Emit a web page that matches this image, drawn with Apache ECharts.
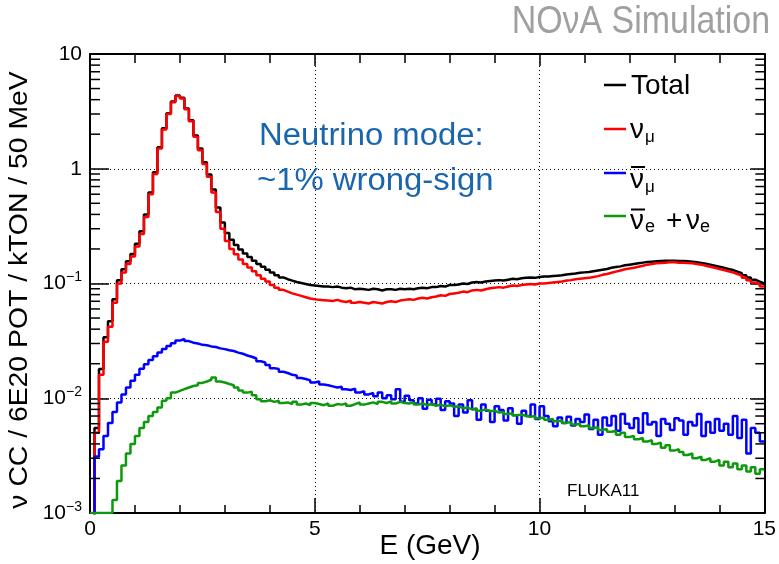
<!DOCTYPE html>
<html><head><meta charset="utf-8">
<script src="https://cdn.jsdelivr.net/npm/echarts@6/dist/echarts.min.js"></script>
<style>html,body{margin:0;padding:0;background:#fff}#c{width:779px;height:564px}</style>
</head><body><div id="c"></div>
<script>
// ---------------- DATA (100 MeV bins, E = 0..15 GeV) ----------------
const BIN_WIDTH = 0.1; // GeV
const X_MIN = 0, X_MAX = 15, X_INTERVAL = 5;
const Y_MIN = 0.001, Y_MAX = 10;
const seriesNames = ['Total', 'numu', 'numubar', 'nue'];

const total = [
  0.0008, 0.0055, 0.018, 0.034, 0.047, 0.073, 0.107, 0.133, 0.156, 0.181,
  0.222, 0.285, 0.40, 0.62, 0.93, 1.54, 2.25, 3.05, 3.85, 4.35,
  4.15, 3.35, 2.65, 1.95, 1.5, 1.14, 0.89, 0.66, 0.46, 0.34,
  0.275, 0.24, 0.216, 0.198, 0.183, 0.170, 0.158, 0.148, 0.140, 0.132,
  0.125, 0.118, 0.113, 0.109, 0.106, 0.103, 0.101, 0.099, 0.097, 0.096,
  0.095, 0.094, 0.094, 0.093, 0.094, 0.092, 0.091, 0.092, 0.089, 0.090,
  0.089, 0.088, 0.090, 0.089, 0.087, 0.089, 0.089, 0.088, 0.090, 0.089,
  0.090, 0.089, 0.091, 0.092, 0.091, 0.093, 0.093, 0.095, 0.094, 0.097,
  0.097, 0.098, 0.100, 0.099, 0.102, 0.103, 0.102, 0.104, 0.105, 0.106,
  0.107, 0.106, 0.108, 0.110, 0.109, 0.111, 0.112, 0.113, 0.112, 0.114,
  0.115, 0.115, 0.116, 0.117, 0.118, 0.120, 0.121, 0.122, 0.124, 0.125,
  0.126, 0.128, 0.130, 0.132, 0.134, 0.137, 0.139, 0.141, 0.144, 0.146,
  0.148, 0.150, 0.152, 0.154, 0.155, 0.156, 0.157, 0.158, 0.158, 0.158,
  0.157, 0.157, 0.156, 0.155, 0.153, 0.151, 0.149, 0.146, 0.143, 0.140,
  0.137, 0.134, 0.131, 0.127, 0.123, 0.118, 0.113, 0.108, 0.104, 0.100
];

const numu = [
  0.0008, 0.005, 0.016, 0.031, 0.042, 0.068, 0.100, 0.125, 0.148, 0.172,
  0.21, 0.27, 0.38, 0.60, 0.90, 1.5, 2.2, 3.0, 3.8, 4.3,
  4.1, 3.3, 2.6, 1.9, 1.45, 1.1, 0.85, 0.62, 0.42, 0.30,
  0.235, 0.20, 0.18, 0.162, 0.148, 0.138, 0.128, 0.118, 0.110, 0.104,
  0.097, 0.092, 0.088, 0.085, 0.082, 0.080, 0.078, 0.076, 0.074, 0.073,
  0.072, 0.0715, 0.071, 0.0705, 0.072, 0.070, 0.069, 0.071, 0.068, 0.069,
  0.068, 0.067, 0.069, 0.068, 0.067, 0.069, 0.070, 0.069, 0.071, 0.072,
  0.073, 0.072, 0.074, 0.075, 0.074, 0.076, 0.077, 0.079, 0.078, 0.081,
  0.082, 0.083, 0.085, 0.084, 0.087, 0.088, 0.087, 0.089, 0.091, 0.092,
  0.093, 0.092, 0.094, 0.096, 0.095, 0.097, 0.098, 0.099, 0.098, 0.100,
  0.100, 0.101, 0.102, 0.103, 0.104, 0.106, 0.107, 0.109, 0.110, 0.111,
  0.112, 0.114, 0.116, 0.119, 0.121, 0.124, 0.127, 0.130, 0.133, 0.135,
  0.137, 0.140, 0.143, 0.146, 0.148, 0.150, 0.151, 0.152, 0.153, 0.153,
  0.152, 0.152, 0.151, 0.150, 0.148, 0.146, 0.143, 0.140, 0.137, 0.134,
  0.131, 0.128, 0.125, 0.121, 0.117, 0.112, 0.107, 0.102, 0.098, 0.094
];

const numubar = [
  0.0008, 0.0031, 0.0036, 0.0047, 0.0061, 0.0076, 0.0092, 0.0108, 0.0124, 0.0142,
  0.0160, 0.0181, 0.0198, 0.0215, 0.0232, 0.0250, 0.0268, 0.0285, 0.0302, 0.0318,
  0.0328, 0.0315, 0.0305, 0.0300, 0.0292, 0.0290, 0.0283, 0.0280, 0.0272, 0.0268,
  0.0262, 0.0258, 0.0250, 0.0244, 0.0236, 0.0230, 0.0222, 0.0210, 0.0205, 0.0195,
  0.0183, 0.0180, 0.0170, 0.0166, 0.0160, 0.0158, 0.0150, 0.0147, 0.0143, 0.0137,
  0.0140, 0.0132, 0.0130, 0.0127, 0.0124, 0.0126, 0.0120, 0.0118, 0.0121, 0.0112,
  0.0115, 0.0108, 0.0111, 0.0104, 0.0112, 0.0100, 0.0106, 0.0098, 0.0120, 0.0093,
  0.0105, 0.0096, 0.0090, 0.0100, 0.0081, 0.0097, 0.0088, 0.0099, 0.0079, 0.0094,
  0.0090, 0.0070, 0.0088, 0.0075, 0.0096, 0.0080, 0.0065, 0.0088, 0.0078, 0.0062,
  0.0085, 0.0079, 0.0064, 0.0082, 0.0071, 0.0060, 0.0078, 0.0070, 0.0088, 0.0066,
  0.0085, 0.0070, 0.0063, 0.0057, 0.0068, 0.0061, 0.0069, 0.0058, 0.0066, 0.0062,
  0.0072, 0.0054, 0.0065, 0.0048, 0.0068, 0.0058, 0.0070, 0.0052, 0.0073, 0.0060,
  0.0055, 0.0067, 0.0050, 0.0074, 0.0059, 0.0062, 0.0047, 0.0066, 0.0060, 0.0053,
  0.0067, 0.0064, 0.0048, 0.0062, 0.0058, 0.0073, 0.0047, 0.0062, 0.0050, 0.0066,
  0.0052, 0.0060, 0.0048, 0.0070, 0.0045, 0.0065, 0.0033, 0.0055, 0.0050, 0.0042
];

const nue = [
  0.001, 0.001, 0.001, 0.001, 0.001, 0.0013, 0.0019, 0.0026, 0.0033, 0.0040,
  0.0047, 0.0055, 0.0062, 0.0070, 0.0076, 0.0083, 0.0095, 0.0100, 0.0112, 0.0116,
  0.0120, 0.0124, 0.0128, 0.0130, 0.0136, 0.0140, 0.0145, 0.0152, 0.0140, 0.0137,
  0.0133, 0.0130, 0.0124, 0.0117, 0.0112, 0.0114, 0.0106, 0.0098, 0.0094, 0.0096,
  0.0093, 0.0095, 0.0091, 0.0092, 0.0089, 0.0093, 0.0088, 0.0090, 0.0087, 0.0091,
  0.0089, 0.0087, 0.0090, 0.0086, 0.0089, 0.0088, 0.0090, 0.0086, 0.0089, 0.0092,
  0.0088, 0.0090, 0.0092, 0.0089, 0.0093, 0.0091, 0.0094, 0.0090, 0.0093, 0.0091,
  0.0090, 0.0092, 0.0088, 0.0090, 0.0087, 0.0089, 0.0086, 0.0088, 0.0085, 0.0087,
  0.0084, 0.0085, 0.0082, 0.0083, 0.0080, 0.0082, 0.0078, 0.0080, 0.0077, 0.0078,
  0.0075, 0.0076, 0.0073, 0.0074, 0.0071, 0.0072, 0.0070, 0.0069, 0.0070, 0.0067,
  0.0068, 0.0065, 0.0066, 0.0063, 0.0064, 0.0061, 0.0062, 0.0059, 0.0060, 0.0057,
  0.0058, 0.0055, 0.0056, 0.0053, 0.0054, 0.0051, 0.0052, 0.0048, 0.0050, 0.0046,
  0.0047, 0.0044, 0.0045, 0.0042, 0.0043, 0.0040, 0.0041, 0.0037, 0.0039, 0.0035,
  0.0036, 0.0034, 0.0032, 0.0033, 0.0030, 0.0031, 0.0029, 0.0030, 0.0028, 0.0029,
  0.0026, 0.0028, 0.0025, 0.0027, 0.0024, 0.0026, 0.0023, 0.0025, 0.0022, 0.0024
];

const xTitle = 'E (GeV)';
const yTitle = '\u03bd CC / 6E20 POT / kTON / 50 MeV';
const topRightText = 'NO\u03bdA Simulation';
const noteLines = ['Neutrino mode:', '~1% wrong-sign'];
const genText = 'FLUKA11';

// ---------------- CHART ----------------
const FONT = '"Liberation Sans", Arial, Helvetica, sans-serif';
const COLORS = { Total: '#000000', numu: '#ff0000', numubar: '#0000ff', nue: '#0c990c' };

function toSteps(vals) {
  const d = vals.map((v, i) => [+(i * BIN_WIDTH).toFixed(3), v]);
  d.push([+(vals.length * BIN_WIDTH).toFixed(3), vals[vals.length - 1]]);
  return d;
}

const chart = echarts.init(document.getElementById('c'), null, { renderer: 'canvas' });

const axisLineStyle = { color: '#000', width: 2 };
const tickStyle = { color: '#000', width: 1.5 };

const option = {
  animation: false,
  backgroundColor: '#fff',
  grid: { left: 90, right: 11, top: 54, bottom: 51, containLabel: false },
  xAxis: [
    {
      type: 'value', min: X_MIN, max: X_MAX, interval: X_INTERVAL, position: 'bottom',
      axisLine: { show: true, onZero: false, lineStyle: axisLineStyle },
      axisTick: { show: true, inside: true, length: 15, lineStyle: tickStyle },
      minorTick: { show: true, splitNumber: 5, length: 8, lineStyle: tickStyle },
      axisLabel: { show: true, color: '#000', fontSize: 21, fontFamily: FONT, margin: 6, showMinLabel: true, showMaxLabel: true },
      splitLine: { show: true, lineStyle: { color: '#000', type: [1, 3], width: 1 } },
      minorSplitLine: { show: false }
    },
    {
      type: 'value', min: X_MIN, max: X_MAX, interval: X_INTERVAL, position: 'top',
      axisLine: { show: true, onZero: false, lineStyle: axisLineStyle },
      axisTick: { show: true, inside: true, length: 12, lineStyle: tickStyle },
      minorTick: { show: true, splitNumber: 5, length: 9, lineStyle: tickStyle },
      axisLabel: { show: false },
      splitLine: { show: false }
    }
  ],
  yAxis: [
    {
      type: 'log', logBase: 10, min: Y_MIN, max: Y_MAX, position: 'left',
      axisLine: { show: true, onZero: false, lineStyle: axisLineStyle },
      axisTick: { show: true, inside: true, length: 19, lineStyle: tickStyle },
      minorTick: { show: false },
      axisLabel: {
        show: true, margin: 8,
        formatter: function (v) {
          const k = Math.round(Math.log10(v));
          if (k === 1) return '{b|10}';
          if (k === 0) return '{b|1}';
          return '{b|10}{s|' + (k < 0 ? '\u2212' + (-k) : k) + '}';
        },
        rich: {
          b: { fontSize: 21, fontFamily: FONT, color: '#000', lineHeight: 26 },
          s: { fontSize: 14, fontFamily: FONT, color: '#000', lineHeight: 14, verticalAlign: 'top' }
        }
      },
      splitLine: { show: true, lineStyle: { color: '#000', type: [1, 3], width: 1 } }
    },
    {
      type: 'log', logBase: 10, min: Y_MIN, max: Y_MAX, position: 'right',
      axisLine: { show: true, onZero: false, lineStyle: axisLineStyle },
      axisTick: { show: true, inside: true, length: 14, lineStyle: tickStyle },
      minorTick: { show: false },
      axisLabel: { show: false },
      splitLine: { show: false }
    }
  ],
  series: [
    { name: 'Total', data: toSteps(total), color: COLORS.Total, z: 2 },
    { name: 'numu', data: toSteps(numu), color: COLORS.numu, z: 3 },
    { name: 'numubar', data: toSteps(numubar), color: COLORS.numubar, z: 4 },
    { name: 'nue', data: toSteps(nue), color: COLORS.nue, z: 5 }
  ].map(s => ({
    type: 'line', name: s.name, xAxisIndex: 0, yAxisIndex: 0, step: 'end',
    symbol: 'none', showSymbol: false, clip: true, z: s.z,
    lineStyle: { color: s.color, width: 2.5 }, itemStyle: { color: s.color },
    data: s.data
  }))
};
chart.setOption(option);

// ---------------- extra graphics: log minor ticks, texts, legend ----------------
const g = [];
const xl = chart.convertToPixel({ xAxisIndex: 0 }, X_MIN);
const xr = chart.convertToPixel({ xAxisIndex: 0 }, X_MAX);
for (let k = -3; k <= 0; k++) {
  for (let m = 2; m <= 9; m++) {
    const yp = chart.convertToPixel({ yAxisIndex: 0 }, m * Math.pow(10, k));
    g.push({ type: 'line', shape: { x1: xl, y1: yp, x2: xl + 10, y2: yp }, style: { stroke: '#000', lineWidth: 1.5 }, z: 10 });
    g.push({ type: 'line', shape: { x1: xr - 9, y1: yp, x2: xr, y2: yp }, style: { stroke: '#000', lineWidth: 1.5 }, z: 10 });
  }
}

function txt(text, x, y, size, opts) {
  opts = opts || {};
  return {
    type: 'text', x: x, y: y, rotation: opts.rotation || 0, scaleX: opts.scaleX || 1, z: 20,
    style: {
      text: text, x: 0, y: 0, fill: opts.color || '#000',
      font: size + 'px ' + FONT,
      align: opts.align || 'left', verticalAlign: opts.va || 'middle',
      textAlign: opts.align || 'left', textVerticalAlign: opts.va || 'middle'
    }
  };
}

g.push(txt(topRightText, 770, 22, 39, { align: 'right', color: '#a0a0a0', scaleX: 0.87 }));
g.push(txt(yTitle, 20, 290, 26, { align: 'center', rotation: Math.PI / 2, scaleX: 1.09 }));
g.push(txt(xTitle, 430, 546, 28, { align: 'center' }));
g.push(txt(noteLines[0], 259, 136, 31, { color: '#1966ae', scaleX: 1.06 }));
g.push(txt(noteLines[1], 257, 181, 31, { color: '#1966ae', scaleX: 1.06 }));
g.push(txt(genText, 567, 491, 17));

// legend
const LX1 = 604, LX2 = 626;
const legRows = [85, 129, 173, 216];
const legColors = [COLORS.Total, COLORS.numu, COLORS.numubar, COLORS.nue];
legRows.forEach((y, i) => {
  g.push({ type: 'line', shape: { x1: LX1, y1: y, x2: LX2, y2: y }, style: { stroke: legColors[i], lineWidth: 2.5 }, z: 20 });
});
g.push(txt('Total', 631, 86, 28));
g.push(txt('\u03bd', 630, 130, 28));
g.push(txt('\u03bc', 645, 137, 17));
g.push({ type: 'line', shape: { x1: 631, y1: 167, x2: 645, y2: 167 }, style: { stroke: '#000', lineWidth: 2 }, z: 20 });
g.push(txt('\u03bd', 630, 180, 28));
g.push(txt('\u03bc', 645, 187, 17));
g.push({ type: 'line', shape: { x1: 631, y1: 209.5, x2: 645, y2: 209.5 }, style: { stroke: '#000', lineWidth: 2 }, z: 20 });
g.push(txt('\u03bd', 630, 221, 28));
g.push(txt('e', 645, 227, 18));
g.push(txt('+', 666, 221, 28));
g.push(txt('\u03bd', 686, 221, 28));
g.push(txt('e', 700, 227, 18));

chart.setOption({ graphic: { elements: g } });
</script>
</body></html>
